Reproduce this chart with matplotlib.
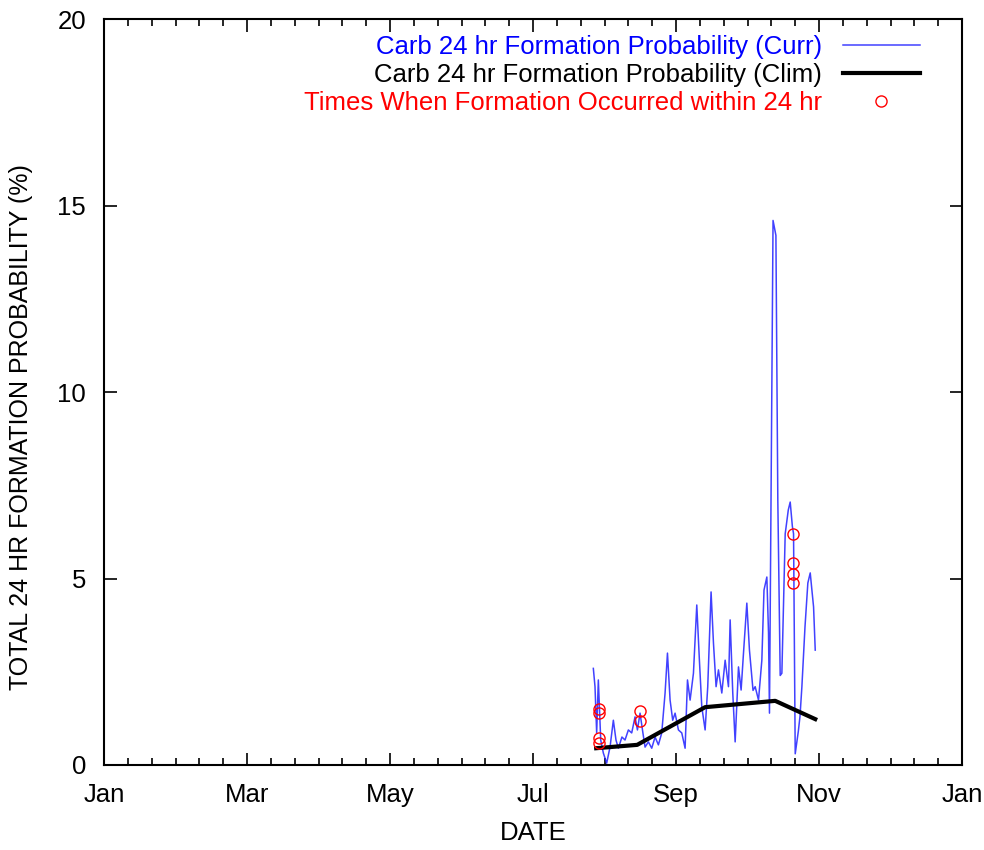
#!/usr/bin/env python3
"""Carb 24 hr formation probability: current season vs climatology."""

import matplotlib
matplotlib.use('Agg')
import matplotlib.pyplot as plt
from matplotlib.ticker import MultipleLocator

plt.rcParams['font.family'] = ['Liberation Sans', 'DejaVu Sans']

# --- data (days since Jan 1, probability in %) ---------------------------
curr_day = [205.3, 206.0, 206.7, 207.4, 208.4, 209.5, 210.9, 212.3, 213.7, 214.8,
            215.8, 217.3, 218.6, 220.0, 221.4, 222.8, 223.8, 224.9, 226.1, 227.0,
            228.4, 229.8, 231.2, 232.6, 234.0, 235.4, 236.4, 237.5, 238.6, 239.6,
            241.0, 242.4, 243.8, 244.8, 245.9, 247.3, 248.7, 249.8, 250.8, 252.2,
            253.3, 254.7, 255.7, 256.8, 257.8, 259.2, 260.6, 262.0, 262.7, 263.8,
            264.8, 266.2, 267.3, 268.3, 269.7, 270.8, 272.3, 273.2, 274.6, 276.0,
            276.9, 278.1, 278.8, 279.2, 280.7, 281.9, 282.7, 283.7, 284.4, 285.8,
            287.1, 287.9, 288.8, 289.3, 290.0, 291.3, 292.0, 292.8, 294.1, 295.3,
            296.3, 297.0, 297.7, 298.4]
curr_prob = [2.59, 2.10, 0.86, 2.28, 0.67, 0.32, 0.05, 0.48, 1.20, 0.67,
             0.45, 0.75, 0.67, 0.94, 0.86, 1.29, 0.94, 1.39, 0.86, 0.48,
             0.62, 0.45, 0.75, 0.54, 0.86, 1.93, 3.00, 1.74, 1.20, 1.39,
             0.94, 0.86, 0.45, 2.28, 1.74, 2.46, 4.29, 2.81, 1.56, 0.94,
             2.10, 4.64, 3.27, 2.10, 2.55, 1.93, 2.81, 2.10, 3.89, 1.93,
             0.62, 2.63, 2.01, 3.00, 4.34, 3.08, 2.00, 2.10, 1.74, 2.81,
             4.69, 5.04, 3.54, 1.39, 14.6, 14.2, 7.10, 2.40, 2.46, 6.20,
             6.84, 7.05, 6.40, 6.20, 0.30, 0.90, 1.30, 2.10, 3.70, 4.88,
             5.15, 4.69, 4.24, 3.08]

clim_day = [206.5, 223.7, 252.2, 281.6, 298.4]
clim_prob = [0.45, 0.54, 1.55, 1.72, 1.23]

event_day = [207.8, 207.8, 207.8, 207.8, 224.9, 224.9, 289.1, 289.1, 289.1, 289.1]
event_prob = [1.49, 1.39, 0.72, 0.58, 1.46, 1.19, 6.18, 5.42, 5.12, 4.89]

tick_days = [0, 60, 120, 180, 240, 300, 360]
tick_labels = ['Jan', 'Mar', 'May', 'Jul', 'Sep', 'Nov', 'Jan']

FS = 18.5

# --- plot ------------------------------------------------------------------
fig = plt.figure(figsize=(9.84, 8.5), dpi=100)
ax = fig.add_axes([0.1057, 0.1, 0.872, 0.8776])

ax.plot(curr_day, curr_prob, color='#2020ff', lw=1.1, alpha=0.85,
        label='Carb 24 hr Formation Probability (Curr)')
ax.plot(clim_day, clim_prob, color='black', lw=3.0,
        label='Carb 24 hr Formation Probability (Clim)')
ax.plot(event_day, event_prob, ls='none', marker='o', ms=8, mfc='none',
        mec='red', mew=1.0,
        label='Times When Formation Occurred within 24 hr')

ax.set_xlim(0, 360)
ax.set_ylim(0, 20)
ax.set_xticks(tick_days)
ax.set_xticklabels(tick_labels)
ax.xaxis.set_minor_locator(MultipleLocator(10))
ax.set_yticks([0, 5, 10, 15, 20])

ax.tick_params(which='both', direction='in', top=True, right=True,
               labelsize=FS, width=1.2)
ax.tick_params(axis='x', pad=13)
ax.tick_params(axis='y', pad=13)
ax.tick_params(which='major', length=9)
ax.tick_params(which='minor', length=5)
for s in ax.spines.values():
    s.set_linewidth(1.5)

ax.set_xlabel('DATE', fontsize=FS, labelpad=10)
ax.set_ylabel('TOTAL 24 HR FORMATION PROBABILITY (%)', fontsize=18)
ax.yaxis.set_label_coords(-0.0828, 0.453)

leg = ax.legend(loc='upper right', bbox_to_anchor=(0.951, 0.978),
                frameon=False, markerfirst=False, fontsize=FS,
                handlelength=3.0, handletextpad=0.8, labelspacing=0.15,
                borderpad=0, borderaxespad=0, numpoints=1)
for txt, c in zip(leg.get_texts(), ['blue', 'black', 'red']):
    txt.set_color(c)

fig.savefig('out.png', dpi=100)
